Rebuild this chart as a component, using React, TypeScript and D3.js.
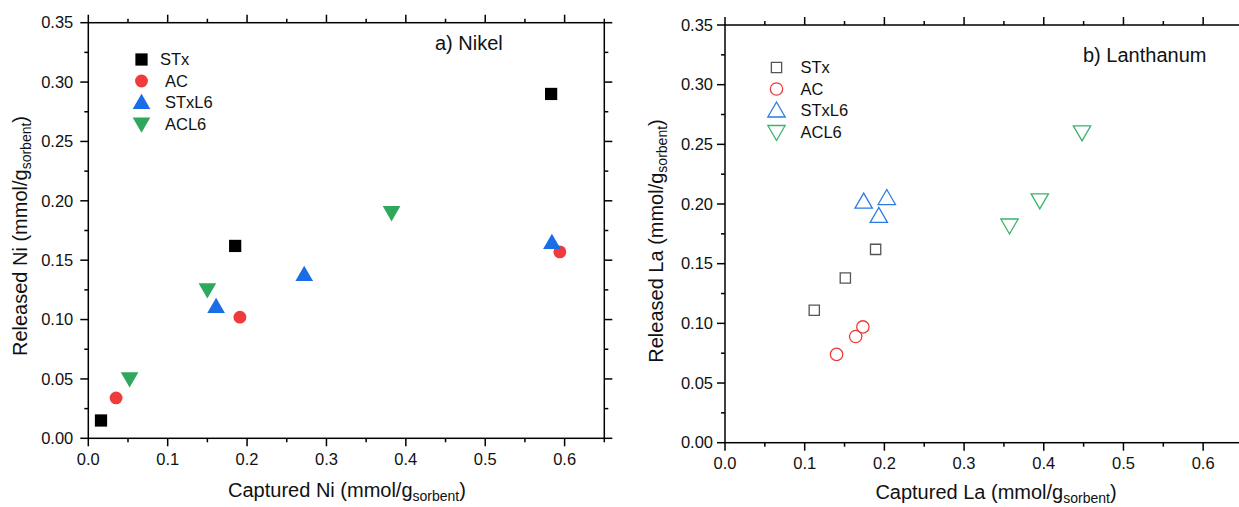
import React from "react";
import * as d3 from "d3";

const seriesNames = ["STx", "AC", "STxL6", "ACL6"];

// a) Nickel
const niSTxX = [0.016, 0.185, 0.583];
const niSTxY = [0.015, 0.162, 0.29];
const niACX = [0.035, 0.191, 0.594];
const niACY = [0.034, 0.102, 0.157];
const niSTxL6X = [0.161, 0.272, 0.584];
const niSTxL6Y = [0.111, 0.138, 0.165];
const niACL6X = [0.052, 0.15, 0.382];
const niACL6Y = [0.05, 0.125, 0.19];

// b) Lanthanum
const laSTxX = [0.112, 0.151, 0.189];
const laSTxY = [0.111, 0.138, 0.162];
const laACX = [0.14, 0.164, 0.173];
const laACY = [0.074, 0.089, 0.097];
const laSTxL6X = [0.174, 0.193, 0.203];
const laSTxL6Y = [0.202, 0.19, 0.205];
const laACL6X = [0.357, 0.395, 0.448];
const laACL6Y = [0.182, 0.203, 0.26];

const xTicks = [0, 0.1, 0.2, 0.3, 0.4, 0.5, 0.6];
const yTicks = [0, 0.05, 0.1, 0.15, 0.2, 0.25, 0.3, 0.35];

const FONT = "'Liberation Sans', Arial, Helvetica, sans-serif";

const filledColors = ["#000000", "#ef3b3b", "#1a6de6", "#2fa85e"];
const openColors = ["#555555", "#f03a3a", "#2a7be8", "#3bb36a"];
const symbolTypes = [d3.symbolSquare, d3.symbolCircle, d3.symbolTriangle, d3.symbolTriangle];
const symbolSizes = [150, 130, 135, 135];
const symbolSizesOpen = [105, 120, 130, 130];

function markerPath(i: number, size: number) {
  return d3.symbol().type(symbolTypes[i]).size(size)() as string;
}

function Marker({ i, x, y, filled }: { i: number; x: number; y: number; filled: boolean }) {
  const size = filled ? symbolSizes[i] : symbolSizesOpen[i];
  const col = filled ? filledColors[i] : openColors[i];
  const rot = i === 3 ? 180 : 0;
  const dy = i === 2 ? 1.5 : i === 3 ? -1.5 : 0;
  return (
    <path
      d={markerPath(i, size)}
      transform={`translate(${x},${y + dy}) rotate(${rot})`}
      fill={filled ? col : "none"}
      stroke={filled ? "none" : col}
      strokeWidth={filled ? 0 : 1.3}
    />
  );
}

type PanelProps = {
  left: number;
  top: number;
  right: number;
  bottom: number;
  xs: number[][];
  ys: number[][];
  filled: boolean;
  label: string;
  labelX: number;
  labelY: number;
  elem: string;
  legendX: number;
  legendY: number;
  legendTextX: number[];
  yTickGap: number;
  xTitleX: number;
  xTitleY: number;
  yTitleX: number;
  yTitleY: number;
};

function Panel(p: PanelProps) {
  const x = d3.scaleLinear().domain([0, 0.65]).range([p.left, p.right]);
  const y = d3.scaleLinear().domain([0, 0.35]).range([p.bottom, p.top]);
  const xMinor = d3.range(0, 0.651, 0.05).filter((v) => Math.abs(Math.round(v * 10) - v * 10) > 0.01);
  const yMinor = d3.range(0.025, 0.35, 0.05);
  const sw = 1.5;
  const maj = 8;
  const min = 4;
  const els: React.ReactNode[] = [];
  xTicks.forEach((t, k) => {
    const xx = x(t);
    els.push(<line key={"xb" + k} x1={xx} x2={xx} y1={p.bottom} y2={p.bottom + maj} stroke="#000" strokeWidth={sw} />);
    els.push(<line key={"xt" + k} x1={xx} x2={xx} y1={p.top} y2={p.top - maj} stroke="#000" strokeWidth={sw} />);
    els.push(
      <text key={"xl" + k} x={xx} y={p.bottom + 26.5} textAnchor="middle" fontSize={16.5} fontFamily={FONT} fill="#111">
        {d3.format(".1f")(t)}
      </text>
    );
  });
  xMinor.forEach((t, k) => {
    const xx = x(t);
    els.push(<line key={"xmb" + k} x1={xx} x2={xx} y1={p.bottom} y2={p.bottom + min} stroke="#000" strokeWidth={sw} />);
    els.push(<line key={"xmt" + k} x1={xx} x2={xx} y1={p.top} y2={p.top - min} stroke="#000" strokeWidth={sw} />);
  });
  yTicks.forEach((t, k) => {
    const yy = y(t);
    els.push(<line key={"yl" + k} x1={p.left} x2={p.left - maj} y1={yy} y2={yy} stroke="#000" strokeWidth={sw} />);
    els.push(<line key={"yr" + k} x1={p.right} x2={p.right + maj} y1={yy} y2={yy} stroke="#000" strokeWidth={sw} />);
    els.push(
      <text key={"ylb" + k} x={p.left - p.yTickGap} y={yy} dy="0.35em" textAnchor="end" fontSize={16.5} fontFamily={FONT} fill="#111">
        {d3.format(".2f")(t)}
      </text>
    );
  });
  yMinor.forEach((t, k) => {
    const yy = y(t);
    els.push(<line key={"yml" + k} x1={p.left} x2={p.left - min} y1={yy} y2={yy} stroke="#000" strokeWidth={sw} />);
    els.push(<line key={"ymr" + k} x1={p.right} x2={p.right + min} y1={yy} y2={yy} stroke="#000" strokeWidth={sw} />);
  });
  return (
    <g>
      <rect x={p.left} y={p.top} width={p.right - p.left} height={p.bottom - p.top} fill="none" stroke="#000" strokeWidth={sw} />
      {els}
      {p.xs.map((arr, i) =>
        arr.map((v, j) => <Marker key={`m${i}-${j}`} i={i} x={x(v)} y={y(p.ys[i][j])} filled={p.filled} />)
      )}
      {seriesNames.map((n, i) => (
        <g key={"lg" + i}>
          <Marker i={i} x={p.legendX} y={p.legendY + i * 21.5} filled={p.filled} />
          <text x={p.legendTextX[i]} y={p.legendY + i * 21.5} dy="0.36em" fontSize={16.5} fontFamily={FONT} fill="#111">
            {n}
          </text>
        </g>
      ))}
      <text x={p.labelX} y={p.labelY} fontSize={20} fontFamily={FONT} fill="#111">
        {p.label}
      </text>
      <text x={p.xTitleX} y={p.xTitleY} textAnchor="middle" fontSize={20} fontFamily={FONT} fill="#111">
        {`Captured ${p.elem} (mmol/g`}
        <tspan fontSize={14} dy={4}>sorbent</tspan>
        <tspan dy={-4}>)</tspan>
      </text>
      <text
        transform={`translate(${p.yTitleX},${p.yTitleY}) rotate(-90)`}
        textAnchor="middle"
        fontSize={20}
        fontFamily={FONT}
        fill="#111"
      >
        {`Released ${p.elem} (mmol/g`}
        <tspan fontSize={14} dy={4}>sorbent</tspan>
        <tspan dy={-4}>)</tspan>
      </text>
    </g>
  );
}

export default function App() {
  return (
    <svg
      width={1239}
      height={507}
      style={{ position: "absolute", left: 0, top: 0, background: "#fff" }}
    >
      <rect x={0} y={0} width={1239} height={507} fill="#fff" />
      <Panel
        left={88.3}
        top={22.7}
        right={604.3}
        bottom={438.3}
        xs={[niSTxX, niACX, niSTxL6X, niACL6X]}
        ys={[niSTxY, niACY, niSTxL6Y, niACL6Y]}
        filled={true}
        label="a) Nikel"
        labelX={435}
        labelY={50}
        elem="Ni"
        legendX={141.5}
        legendY={59.5}
        legendTextX={[160, 165, 165, 165]}
        yTickGap={15}
        xTitleX={347}
        xTitleY={497}
        yTitleX={27}
        yTitleY={236}
      />
      <Panel
        left={725}
        top={25}
        right={1243}
        bottom={442.7}
        xs={[laSTxX, laACX, laSTxL6X, laACL6X]}
        ys={[laSTxY, laACY, laSTxL6Y, laACL6Y]}
        filled={false}
        label="b) Lanthanum"
        labelX={1083}
        labelY={62}
        elem="La"
        legendX={776.5}
        legendY={67.5}
        legendTextX={[800.5, 800.5, 800.5, 800.5]}
        yTickGap={12}
        xTitleX={996}
        xTitleY={499}
        yTitleX={663}
        yTitleY={241}
      />
    </svg>
  );
}
